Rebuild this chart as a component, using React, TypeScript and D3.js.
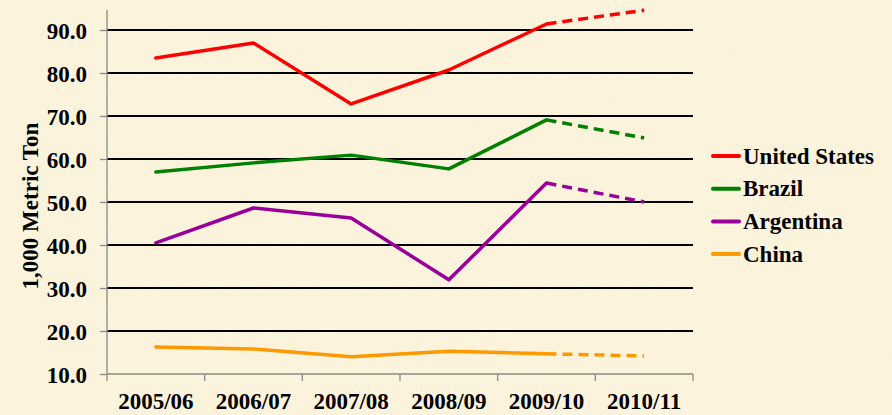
import React, { useEffect, useRef } from "react";
import * as d3 from "d3";

const seasons = ["2005/06", "2006/07", "2007/08", "2008/09", "2009/10", "2010/11"];
const countries = ["United States", "Brazil", "Argentina", "China"];
const colors = ["#FF0000", "#008000", "#990099", "#FF9900"];
const usValues = [83.5, 87.0, 72.8, 80.7, 91.4, 94.6];
const brazilValues = [57.0, 59.1, 60.9, 57.7, 69.1, 64.9];
const argentinaValues = [40.5, 48.6, 46.3, 31.9, 54.4, 50.0];
const chinaValues = [16.3, 15.8, 14.0, 15.3, 14.7, 14.2];
const yTicks = [10, 20, 30, 40, 50, 60, 70, 80, 90];

const W = 892, H = 415;
const font = "Liberation Serif, DejaVu Serif, serif";
const fs = 23;

const App = () => {
  const svgRef = useRef<SVGSVGElement>(null);

  useEffect(() => {
    const svg = d3.select(svgRef.current);
    svg.selectAll("*").remove();

    const left = 107, right = 693, top = 30, bottom = 374;

    const x = d3.scaleBand().domain(seasons).range([left, right]);
    const y = d3.scaleLinear().domain([10, 90]).range([bottom, top]);

    // paper-like background
    const defs = svg.append("defs");
    const f = defs.append("filter").attr("id", "paper").attr("x", 0).attr("y", 0).attr("width", 1).attr("height", 1);
    f.append("feTurbulence").attr("type", "fractalNoise").attr("baseFrequency", 0.04).attr("numOctaves", 3).attr("seed", 3);
    f.append("feColorMatrix").attr("type", "matrix")
      .attr("values", "0 0 0 0 0.93  0 0 0 0 0.87  0 0 0 0 0.74  0 0 0 0.3 -0.1");
    svg.append("rect").attr("width", W).attr("height", H).attr("fill", "#FCF3DC");
    svg.append("rect").attr("width", W).attr("height", H).attr("filter", "url(#paper)").attr("opacity", 0.45);

    // grid lines
    svg.append("g")
      .selectAll("line")
      .data(yTicks.filter((t) => t > 10))
      .enter()
      .append("line")
      .attr("x1", left).attr("x2", right)
      .attr("y1", (d) => y(d)).attr("y2", (d) => y(d))
      .attr("stroke", "#000").attr("stroke-width", 2);

    // y axis
    const yAxis = svg.append("g")
      .attr("transform", `translate(${left},0)`)
      .call(d3.axisLeft(y).tickValues(yTicks).tickSize(7).tickFormat(d3.format(".1f")));
    yAxis.select(".domain").attr("stroke", "#8a8a8a").attr("stroke-width", 1.3)
      .attr("d", `M0,${top - 20}V${bottom}`);
    yAxis.selectAll(".tick line").attr("stroke", "#8a8a8a").attr("stroke-width", 1.3);
    yAxis.selectAll(".tick text")
      .attr("x", -20)
      .attr("dy", "0.35em")
      .attr("font-family", font).attr("font-size", fs).attr("font-weight", "bold")
      .attr("fill", "#000");
    yAxis.attr("font-family", font);

    // x axis
    const xTickPositions = seasons.map((s) => x(s)!).concat([right]);
    const xAxis = svg.append("g");
    xAxis.append("line")
      .attr("x1", left).attr("x2", right).attr("y1", bottom).attr("y2", bottom)
      .attr("stroke", "#8a8a8a").attr("stroke-width", 1.3);
    xAxis.selectAll(".xt")
      .data(xTickPositions)
      .enter()
      .append("line")
      .attr("x1", (d) => d).attr("x2", (d) => d)
      .attr("y1", bottom).attr("y2", bottom + 7)
      .attr("stroke", "#8a8a8a").attr("stroke-width", 1.3);
    xAxis.selectAll("text")
      .data(seasons)
      .enter()
      .append("text")
      .attr("x", (d) => x(d)! + x.bandwidth() / 2)
      .attr("y", 409)
      .attr("text-anchor", "middle")
      .attr("font-family", font).attr("font-size", fs).attr("font-weight", "bold")
      .text((d) => d);

    // y title
    svg.append("text")
      .attr("transform", `translate(38,${(top + bottom) / 2 + 4}) rotate(-90)`)
      .attr("text-anchor", "middle")
      .attr("font-family", font).attr("font-size", fs).attr("font-weight", "bold")
      .text("1,000 Metric Ton");

    const series = [usValues, brazilValues, argentinaValues, chinaValues];
    const line = d3.line<number>()
      .x((_, i) => x(seasons[i])! + x.bandwidth() / 2)
      .y((d) => y(d));
    const dashed = d3.line<number>()
      .x((_, i) => x(seasons[i + 4])! + x.bandwidth() / 2)
      .y((d) => y(d));

    series.forEach((vals, k) => {
      svg.append("path")
        .attr("d", line(vals.slice(0, 5)))
        .attr("fill", "none").attr("stroke", colors[k]).attr("stroke-width", 3.5)
        .attr("stroke-linejoin", "round").attr("stroke-linecap", "round");
      svg.append("path")
        .attr("d", dashed(vals.slice(4)))
        .attr("fill", "none").attr("stroke", colors[k]).attr("stroke-width", 3.5)
        .attr("stroke-dasharray", "10,6");
    });

    // legend
    const legend = svg.append("g").attr("transform", "translate(713,156)");
    countries.forEach((c, i) => {
      const g = legend.append("g").attr("transform", `translate(0,${i * 32.7})`);
      g.append("line").attr("x1", 0).attr("x2", 26).attr("y1", 0).attr("y2", 0)
        .attr("stroke", colors[i]).attr("stroke-width", 4).attr("stroke-linecap", "round");
      g.append("text").attr("x", 30).attr("y", 7.5)
        .attr("font-family", font).attr("font-size", fs).attr("font-weight", "bold")
        .text(c);
    });
  }, []);

  return (
    <svg
      ref={svgRef}
      width={W}
      height={H}
      style={{ position: "absolute", left: 0, top: 0 }}
    ></svg>
  );
};

export default App;
